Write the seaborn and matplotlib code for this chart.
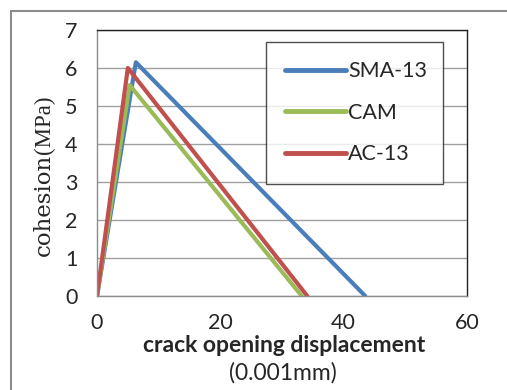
import matplotlib
matplotlib.use("Agg")
import matplotlib.pyplot as plt
from matplotlib.patches import Rectangle
import seaborn as sns
import pandas as pd

# Bilinear cohesive laws: (opening, cohesion) vertices for each mixture
series = ["SMA-13", "CAM", "AC-13"]
sma_x = [0, 6.3, 43.5]
sma_y = [0, 6.15, 0]
cam_x = [0, 5.3, 33.2]
cam_y = [0, 5.55, 0]
ac_x = [0, 5.0, 34.1]
ac_y = [0, 6.0, 0]
colors = ["#4A7EBB", "#9BBB59", "#C0504D"]

x_ticks = [0, 20, 40, 60]
y_ticks = [0, 1, 2, 3, 4, 5, 6, 7]

rows = []
for name, xs, ys in zip(series, [sma_x, cam_x, ac_x], [sma_y, cam_y, ac_y]):
    for i, (xv, yv) in enumerate(zip(xs, ys)):
        rows.append({"series": name, "order": i, "x": xv, "y": yv})
df = pd.DataFrame(rows)

sns.set_style("white")
W, H = 507, 390
fig = plt.figure(figsize=(W / 100, H / 100), dpi=100)

# outer chart border
fig.patches.append(Rectangle((11 / W, -0.1), 1.2, (H - 11) / H + 0.1,
                             transform=fig.transFigure, fill=False,
                             edgecolor="#8c8c8c", linewidth=1.5))

ax = fig.add_axes([97 / W, (H - 296) / H, 370 / W, 266 / H])
sns.lineplot(data=df, x="x", y="y", hue="series", hue_order=series,
             palette=colors, sort=False, estimator=None, units="series",
             linewidth=3, ax=ax)
ax.set_xlim(0, 60)
ax.set_ylim(0, 7)
ax.set_xticks(x_ticks)
ax.set_yticks(y_ticks)
ax.yaxis.grid(True, color="#a0a0a0", linewidth=1)
ax.xaxis.grid(False)
ax.set_axisbelow(True)

tick_font = "Lato"
for lbl in ax.get_xticklabels() + ax.get_yticklabels():
    lbl.set_fontfamily(tick_font)
    lbl.set_fontsize(15.5)
ax.tick_params(axis="x", pad=12, length=0)
ax.tick_params(axis="y", pad=14, length=0)

for side in ["top", "right"]:
    ax.spines[side].set_visible(True)
    ax.spines[side].set_color("#222222")
    ax.spines[side].set_linewidth(1)
for side in ["left", "bottom"]:
    ax.spines[side].set_color("#8c8c8c")
    ax.spines[side].set_linewidth(1)

ax.set_xlabel("")
ax.set_ylabel("")
fig.text(284 / W, 1 - 345 / H, "crack opening displacement", ha="center",
         va="center", fontsize=16.5, fontweight="bold", family=tick_font)
fig.text(283 / W, 1 - 373 / H, "(0.001mm)", ha="center", va="center",
         fontsize=16.5, family=tick_font)

# y-axis title: serif word followed by the unit part
fig.text(44 / W, 1 - 256 / H, "cohesion", rotation=90, ha="center",
         va="bottom", fontsize=16.5, family="DejaVu Serif")
fig.text(44 / W, 1 - 154 / H, "(MPa)", rotation=90, ha="center",
         va="bottom", fontsize=16.5, family="Liberation Serif")

leg = ax.legend(loc="upper left",
                bbox_to_anchor=(266 / W, 1 - 173 / H, (443 - 266) / W, (173 - 42) / H),
                bbox_transform=fig.transFigure, mode="expand",
                frameon=True, fancybox=False, edgecolor="#222222",
                prop={"family": tick_font, "size": 15.5},
                handlelength=2.8, handletextpad=0.1, labelspacing=1.0,
                borderpad=0.9, borderaxespad=0)
leg.get_frame().set_linewidth(1)
for h in leg.get_lines():
    h.set_linewidth(3.5)
    h.set_solid_capstyle("round")

fig.savefig("out.png", dpi=100)
